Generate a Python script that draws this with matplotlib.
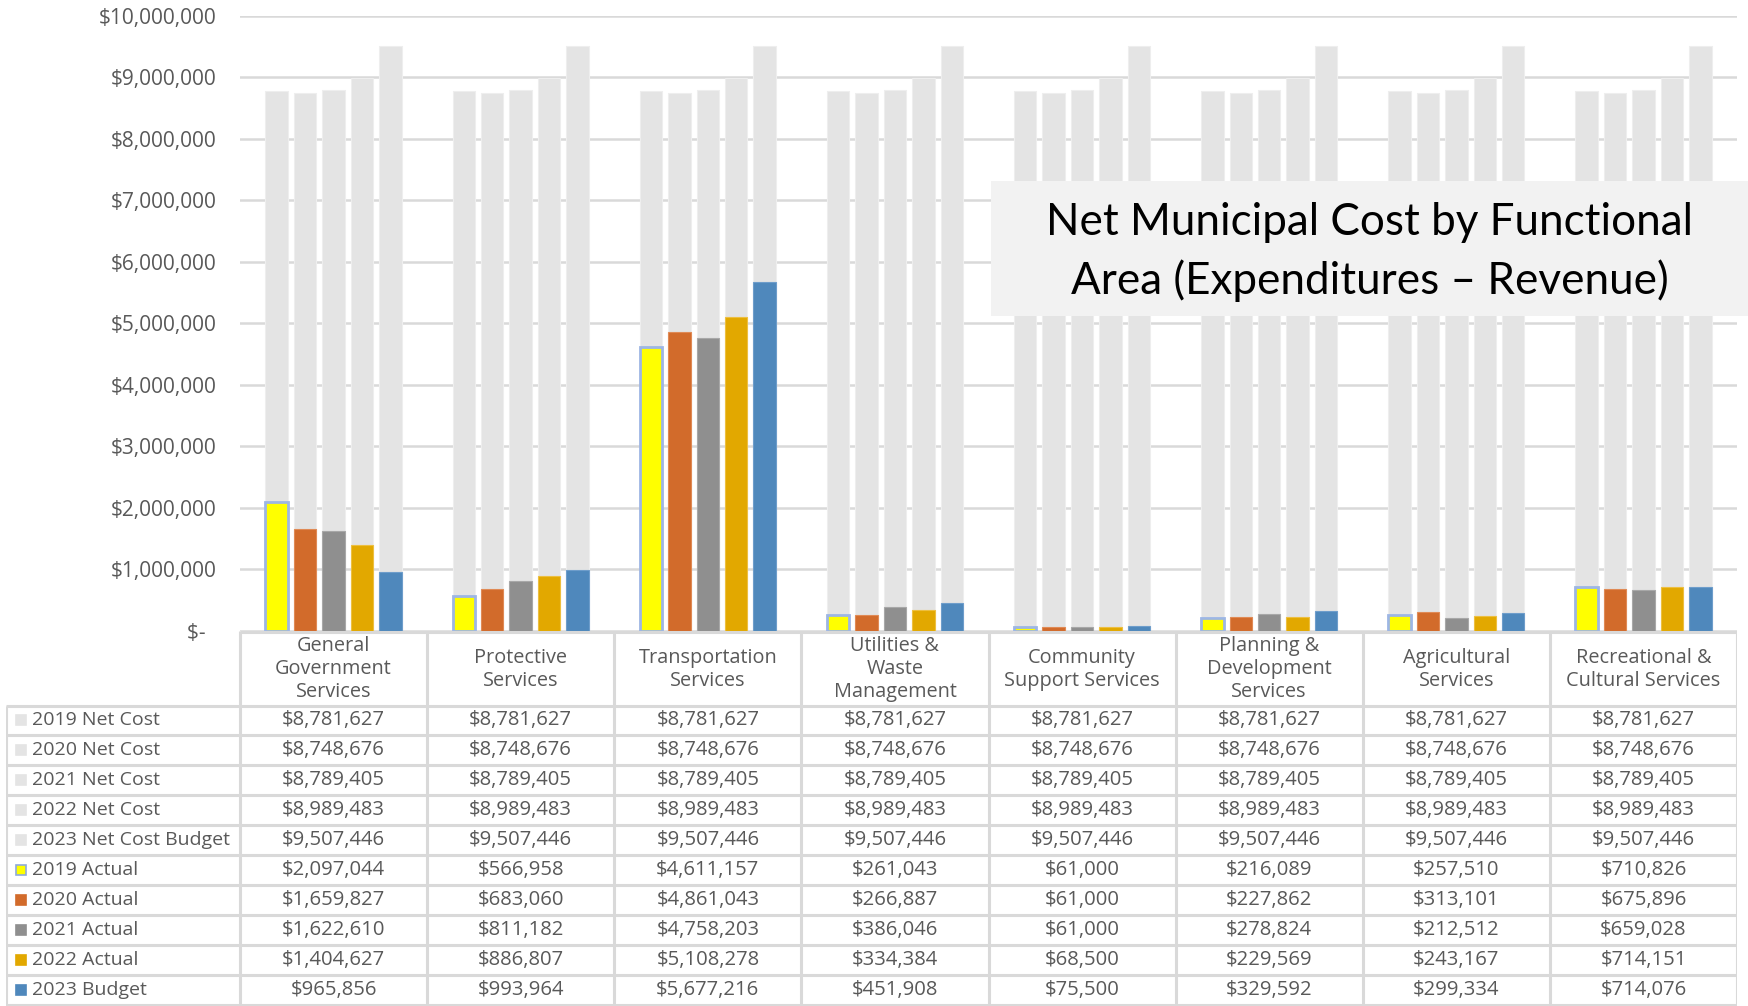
import matplotlib
matplotlib.use("Agg")
import matplotlib.pyplot as plt
from matplotlib.patches import Rectangle
import numpy as np

# ---- data -------------------------------------------------------------
categories = [
    "General\nGovernment\nServices",
    "Protective\nServices",
    "Transportation\nServices",
    "Utilities &\nWaste\nManagement",
    "Community\nSupport Services",
    "Planning &\nDevelopment\nServices",
    "Agricultural\nServices",
    "Recreational &\nCultural Services",
]

net_cost_labels = ["2019 Net Cost", "2020 Net Cost", "2021 Net Cost",
                   "2022 Net Cost", "2023 Net Cost Budget"]
net_cost_totals = [8781627, 8748676, 8789405, 8989483, 9507446]

actual_labels = ["2019 Actual", "2020 Actual", "2021 Actual",
                 "2022 Actual", "2023 Budget"]
actual_2019 = [2097044, 566958, 4611157, 261043, 61000, 216089, 257510, 710826]
actual_2020 = [1659827, 683060, 4861043, 266887, 61000, 227862, 313101, 675896]
actual_2021 = [1622610, 811182, 4758203, 386046, 61000, 278824, 212512, 659028]
actual_2022 = [1404627, 886807, 5108278, 334384, 68500, 229569, 243167, 714151]
budget_2023 = [965856, 993964, 5677216, 451908, 75500, 329592, 299334, 714076]
actual_series = [actual_2019, actual_2020, actual_2021, actual_2022, budget_2023]

yticks = np.arange(0, 10_000_001, 1_000_000)

# ---- styling ----------------------------------------------------------
FONT = "Open Sans"
TXT = "#595959"
GRID = "#D9D9D9"
NET_COLOR = "#E4E4E4"
series_colors = ["#FFFF00", "#D26B2B", "#8F8F8F", "#E2A800", "#4F88BC"]
series_edges = ["#9DB6E4", "#E08A55", "#A8A8A8", "#EDBF40", "#6E9DCB"]

W, H = 1748, 1006
fig = plt.figure(figsize=(W / 100, H / 100), dpi=100)
fig.patch.set_facecolor("white")

plot_left, plot_right = 240, 1737
y_zero, y_top = 631, 15.6
ax = fig.add_axes([plot_left / W, 1 - y_zero / H,
                   (plot_right - plot_left) / W, (y_zero - y_top) / H])

n_cat = len(categories)
x = np.arange(n_cat)
pitch = 0.152
bar_w = 0.12
offsets = (np.arange(5) - 2) * pitch

# background net-cost bars, one per year, repeated in every category
for i, total in enumerate(net_cost_totals):
    ax.bar(x + offsets[i], [total] * n_cat, width=bar_w, color=NET_COLOR,
           edgecolor="#EEEEEE", linewidth=0.8, zorder=2)

# actual / budget bars drawn over their matching net-cost bar
for i, vals in enumerate(actual_series):
    lw = 2.0 if i == 0 else 0.8
    ax.bar(x + offsets[i], vals, width=bar_w, color=series_colors[i],
           edgecolor=series_edges[i], linewidth=lw, zorder=3)

ax.set_xlim(-0.5, n_cat - 0.5)
ax.set_ylim(0, 10_000_000)
ax.set_yticks(yticks)
ax.set_yticklabels([f"${v:,.0f}" if v else "$-  " for v in yticks],
                   fontsize=15, color=TXT, family=FONT)
ax.tick_params(axis="y", length=0, pad=17)
ax.set_xticks([])
ax.yaxis.grid(True, color=GRID, linewidth=1.8, zorder=0)
ax.set_axisbelow(True)
for s in ax.spines.values():
    s.set_visible(False)

# ---- data table below the plot ---------------------------------------
tbl_left = 6
cat_w_px = (plot_right - plot_left) / n_cat
label_w = (plot_left - tbl_left) / cat_w_px
tax = fig.add_axes([tbl_left / W, 0, (plot_right - tbl_left) / W, (H - y_zero) / H])
tax.set_xlim(-0.5 - label_w, n_cat - 0.5)
tax.set_ylim(H - y_zero, 0)
tax.axis("off")

header_h = 705.5 - y_zero
row_h = (H - 705.5 - 1) / 10
lc = dict(color=GRID, linewidth=2.2, solid_capstyle="butt", zorder=1)

# category column borders
for b in np.arange(n_cat + 1) - 0.5:
    tax.plot([b, b], [0, H - y_zero], **lc)
tax.plot([-0.5, n_cat - 0.5], [1, 1], **lc)
# label column borders
left_edge = -0.5 - label_w
tax.plot([left_edge, left_edge], [header_h, H - y_zero], **lc)
for r in range(11):
    yy = header_h + r * row_h
    tax.plot([left_edge, n_cat - 0.5], [yy, yy], **lc)

for j, name in enumerate(categories):
    tax.text(j, header_h / 2 + 1, name, ha="center", va="center",
             fontsize=14.3, color=TXT, family=FONT, linespacing=1.2)

row_labels = net_cost_labels + actual_labels
row_values = [[v] * n_cat for v in net_cost_totals] + actual_series
row_colors = [NET_COLOR] * 5 + series_colors
row_edges = [NET_COLOR] * 5 + ["#8FAADC"] + series_colors[1:]

px = 1.0 / cat_w_px  # one pixel in table x units
for r, (lab, vals) in enumerate(zip(row_labels, row_values)):
    yc = header_h + (r + 0.5) * row_h
    tax.add_patch(Rectangle((left_edge + 10 * px, yc - 5), 10 * px, 10,
                            facecolor=row_colors[r], edgecolor=row_edges[r],
                            linewidth=1.2, zorder=2))
    tax.text(left_edge + 26 * px, yc, lab, ha="left", va="center",
             fontsize=14, color=TXT, family=FONT)
    for j, v in enumerate(vals):
        tax.text(j, yc, f"${v:,.0f}", ha="center", va="center",
                 fontsize=14.6, color=TXT, family=FONT)

# ---- title box ---------------------------------------------------------
bx0, bx1, by0, by1 = 991, 1748, 181, 316
fig.add_artist(Rectangle((bx0 / W, 1 - by1 / H), (bx1 - bx0) / W, (by1 - by0) / H,
                         transform=fig.transFigure, facecolor="#F2F2F2",
                         edgecolor="none", zorder=10))
fig.text((bx0 + 379) / W, 1 - 252 / H,
         "Net Municipal Cost by Functional\nArea (Expenditures \u2013 Revenue)",
         ha="center", va="center", fontsize=31.7, color="black",
         family="Lato", linespacing=1.5, zorder=11)

fig.savefig("out.png", dpi=100, facecolor="white")
